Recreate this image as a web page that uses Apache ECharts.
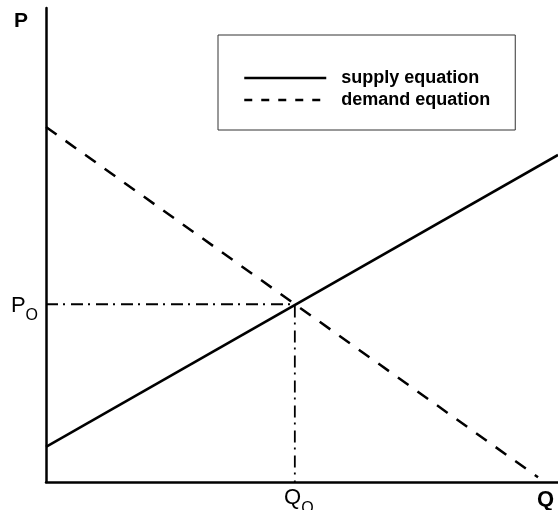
<!DOCTYPE html>
<html>
<head>
<meta charset="utf-8">
<script src="https://cdn.jsdelivr.net/npm/echarts@6/dist/echarts.min.js"></script>
<style>
  html, body { margin: 0; padding: 0; background: #fff; }
  #main { width: 558px; height: 510px; }
</style>
</head>
<body>
<div id="main"></div>
<script>
// supply / demand (axis units 0..10)
const supplyQ = [0, 10];
const supplyP = [0.74, 6.9];
const demandQ = [0, 9.61];
const demandP = [7.49, 0.1];
const eqQ = 4.86;
const eqP = 3.75;
const seriesNames = ['supply equation', 'demand equation'];

const font = "'Liberation Sans', Arial, Helvetica, sans-serif";

const chart = echarts.init(document.getElementById('main'));

const option = {
  animation: false,
  backgroundColor: '#fff',
  grid: { left: 46, right: 0, top: 8, bottom: 28, containLabel: false, outerBoundsMode: 'none' },
  legend: {
    orient: 'vertical',
    left: 218,
    top: 35,
    padding: [34, 25, 21, 25],
    borderColor: '#333',
    borderWidth: 1,
    itemWidth: 82,
    itemHeight: 14,
    itemGap: 4,
    selectedMode: false,
    textStyle: { fontFamily: font, fontWeight: 'bold', fontSize: 18, color: '#000', padding: [0, 0, 0, 10] },
    data: [
      { name: seriesNames[0], itemStyle: { opacity: 0 }, lineStyle: { type: 'solid', width: 2.5 } },
      { name: seriesNames[1], itemStyle: { opacity: 0 }, lineStyle: { type: [8, 9], width: 2.5 } }
    ]
  },
  xAxis: {
    type: 'value',
    min: 0,
    max: 10,
    name: 'Q',
    nameLocation: 'end',
    nameGap: 0,
    nameTextStyle: {
      fontFamily: font, fontWeight: 'bold', fontSize: 22, color: '#000',
      align: 'right', verticalAlign: 'top', padding: [7, 4, 0, 0]
    },
    axisLine: { show: true, onZero: false, lineStyle: { color: '#000', width: 2.5 } },
    axisTick: { show: false },
    splitLine: { show: false },
    axisLabel: {
      customValues: [eqQ],
      margin: -3,
      padding: [0, 0, 0, 8],
      formatter: () => '{a|Q}{b|O}',
      rich: {
        a: { fontFamily: font, fontSize: 22, color: '#000' },
        b: { fontFamily: font, fontSize: 16, color: '#000', padding: [22, 0, 0, 0] }
      }
    }
  },
  yAxis: {
    type: 'value',
    min: 0,
    max: 10,
    name: 'P',
    nameLocation: 'end',
    nameGap: 0,
    nameTextStyle: {
      fontFamily: font, fontWeight: 'bold', fontSize: 21, color: '#000',
      align: 'right', verticalAlign: 'top', padding: [3, 18, 0, 0]
    },
    axisLine: { show: true, onZero: false, lineStyle: { color: '#000', width: 2.5 } },
    axisTick: { show: false },
    splitLine: { show: false },
    axisLabel: {
      customValues: [eqP],
      margin: 8,
      padding: [4, 0, 0, 0],
      formatter: () => '{a|P}{b|O}',
      rich: {
        a: { fontFamily: font, fontSize: 22, color: '#000' },
        b: { fontFamily: font, fontSize: 16, color: '#000', padding: [19, 0, 0, 0] }
      }
    }
  },
  series: [
    {
      name: seriesNames[0],
      type: 'line',
      symbol: 'none',
      lineStyle: { color: '#000', width: 2.5, type: 'solid' },
      itemStyle: { color: '#000' },
      data: supplyQ.map((q, i) => [q, supplyP[i]])
    },
    {
      name: seriesNames[1],
      type: 'line',
      symbol: 'none',
      lineStyle: { color: '#000', width: 2.5, type: [13, 11] },
      itemStyle: { color: '#000' },
      data: demandQ.map((q, i) => [q, demandP[i]])
    },
    {
      name: 'equilibrium',
      type: 'line',
      symbol: 'none',
      silent: true,
      lineStyle: { color: '#000', width: 1.8, type: [12, 5, 2, 6] },
      data: [[0, eqP], [eqQ, eqP], [eqQ, 0]]
    }
  ]
};

chart.setOption(option);
</script>
</body>
</html>
